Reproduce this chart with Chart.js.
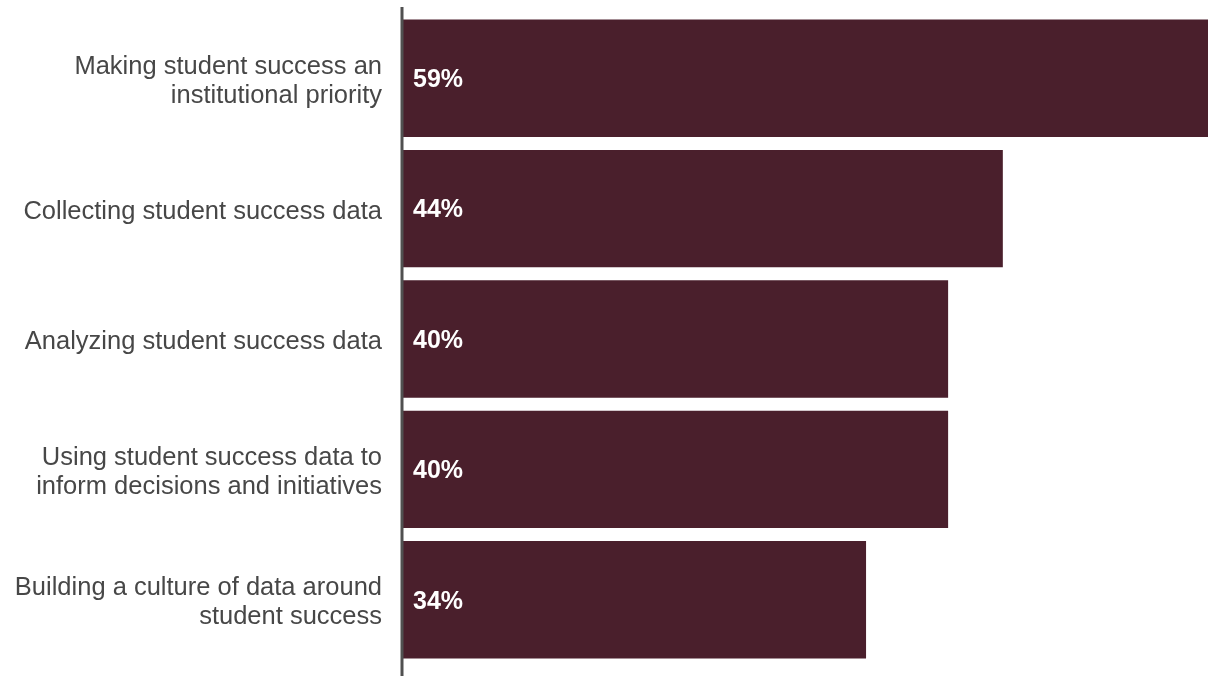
<!DOCTYPE html>
<html lang="en">
<head>
    <meta charset="UTF-8">
    <title>Student success priorities</title>
    <style>
        body {
            margin: 0;
            padding: 0;
            background: #ffffff;
        }
        #chartBox {
            width: 1212px;
            height: 676px;
        }
    </style>
    <script src="https://cdn.jsdelivr.net/npm/chart.js"></script>
</head>
<body>
    <div id="chartBox">
        <canvas id="barChart"></canvas>
    </div>

    <script>
        const categories = [
            ['Making student success an', 'institutional priority'],
            'Collecting student success data',
            'Analyzing student success data',
            ['Using student success data to', 'inform decisions and initiatives'],
            ['Building a culture of data around', 'student success']
        ];
        const percentValues = [59, 44, 40, 40, 34];

        const barColor = '#4a1f2c';
        const labelColor = '#474747';

        // axis line that runs past the bars, top to bottom
        const axisLinePlugin = {
            id: 'axisLine',
            afterDatasetsDraw(chart) {
                const ctx = chart.ctx;
                const x = chart.chartArea.left + 1;
                ctx.save();
                ctx.strokeStyle = '#505050';
                ctx.lineWidth = 3;
                ctx.beginPath();
                ctx.moveTo(x, 7);
                ctx.lineTo(x, chart.height);
                ctx.stroke();
                ctx.restore();
            }
        };

        // percent labels inside the bars
        const valueLabelPlugin = {
            id: 'valueLabels',
            afterDatasetsDraw(chart) {
                const ctx = chart.ctx;
                const meta = chart.getDatasetMeta(0);
                ctx.save();
                ctx.fillStyle = '#ffffff';
                ctx.font = 'bold 25px "Liberation Sans", Arial, sans-serif';
                ctx.textAlign = 'left';
                ctx.textBaseline = 'middle';
                meta.data.forEach((bar, i) => {
                    ctx.fillText(percentValues[i] + '%', chart.chartArea.left + 12, bar.y + 2);
                });
                ctx.restore();
            }
        };

        const barChart = new Chart(document.getElementById('barChart'), {
            type: 'bar',
            data: {
                labels: categories,
                datasets: [{
                    data: percentValues,
                    backgroundColor: barColor,
                    borderWidth: 0,
                    barPercentage: 0.9,
                    categoryPercentage: 1
                }]
            },
            options: {
                indexAxis: 'y',
                animation: false,
                responsive: true,
                maintainAspectRatio: false,
                layout: {
                    padding: { top: 13, bottom: 11, right: 4, left: 0 }
                },
                plugins: {
                    legend: { display: false },
                    tooltip: { enabled: false }
                },
                scales: {
                    x: {
                        display: false,
                        min: 0,
                        max: 59
                    },
                    y: {
                        afterFit(scale) {
                            scale.width = 401;
                            scale.paddingTop = 0;
                            scale.paddingBottom = 0;
                        },
                        grid: { display: false, drawTicks: false },
                        border: { display: false },
                        ticks: {
                            padding: 19,
                            labelOffset: 3,
                            color: labelColor,
                            font: {
                                family: '"Liberation Sans", Arial, sans-serif',
                                size: 25.5,
                                lineHeight: 1.14
                            }
                        }
                    }
                }
            },
            plugins: [axisLinePlugin, valueLabelPlugin]
        });
    </script>
</body>
</html>
